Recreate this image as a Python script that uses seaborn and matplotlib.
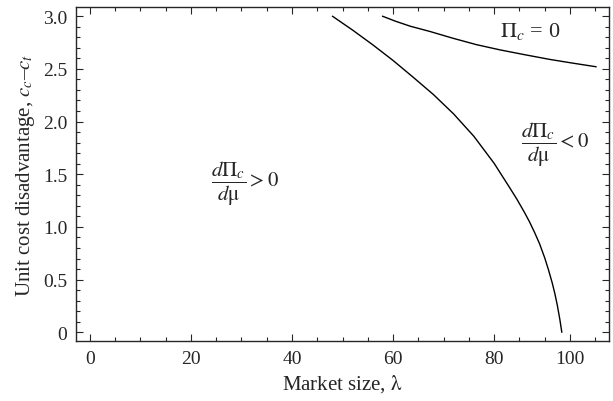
import seaborn as sns
import matplotlib.pyplot as plt
import pandas as pd
from matplotlib.ticker import FixedLocator, MultipleLocator

# boundary where dPi_c/dmu changes sign
lam_deriv = [48.0, 52.0, 56.0, 60.0, 64.0, 68.0, 72.0, 76.0, 80.0, 83.0, 84.5, 86.0, 87.0,
             88.0, 89.0, 90.0, 90.75, 91.5, 92.0, 92.5, 93.0, 93.4]
cost_deriv = [3.0, 2.868, 2.728, 2.580, 2.420, 2.256, 2.072, 1.860, 1.604, 1.379, 1.264, 1.139, 1.049,
              0.949, 0.840, 0.709, 0.595, 0.469, 0.372, 0.259, 0.125, 0.0]

# zero-profit boundary Pi_c = 0
lam_zero = [57.9, 60.5, 63.4, 67.3, 71.9, 76.5, 81.2, 86.0, 91.0, 95.5, 100.2]
cost_zero = [3.0, 2.952, 2.905, 2.855, 2.79, 2.73, 2.68, 2.635, 2.59, 2.555, 2.52]

x_ticks = [0, 20, 40, 60, 80, 95]
x_labels = ['0', '20', '40', '60', '80', '100']
y_ticks = [0, 0.5, 1.0, 1.5, 2.0, 2.5, 3.0]
y_labels = ['0', '0.5', '1.0', '1.5', '2.0', '2.5', '3.0']

sns.set_style('ticks')
plt.rcParams['font.family'] = ['Liberation Serif', 'DejaVu Serif']
plt.rcParams['mathtext.fontset'] = 'stix'

A = pd.DataFrame({'lam': lam_deriv, 'cost': cost_deriv})
B = pd.DataFrame({'lam': lam_zero, 'cost': cost_zero})

fig = plt.figure(figsize=(6.13, 4.02), dpi=100)
ax = fig.add_axes([0.1235, 0.1485, 0.8705, 0.8305])

sns.lineplot(data=A, x='lam', y='cost', sort=False, color='black', lw=1.0, ax=ax)
sns.lineplot(data=B, x='lam', y='cost', sort=False, color='black', lw=1.0, ax=ax)

ax.set_xlim(-2.8, 102.8)
ax.set_ylim(-0.085, 3.083)

ax.xaxis.set_major_locator(FixedLocator(x_ticks))
ax.set_xticklabels(x_labels)
ax.xaxis.set_minor_locator(MultipleLocator(5))
ax.yaxis.set_major_locator(FixedLocator(y_ticks))
ax.set_yticklabels(y_labels)
ax.yaxis.set_minor_locator(MultipleLocator(0.1))

ax.tick_params(which='both', direction='in', top=True, right=True, labelsize=14, width=0.8)
ax.tick_params(which='major', length=5, pad=6)
ax.tick_params(which='minor', length=3)
for s in ax.spines.values():
    s.set_linewidth(1.0)

ax.set_xlabel(r'Market size, $\mathrm{\lambda}$', fontsize=15)
ax.set_ylabel(r'Unit cost disadvantage, $c_c$–$c_t$', fontsize=15)

ax.text(87.1, 2.86, r'$\Pi_c$ = 0', fontsize=16, ha='center', va='center')
ax.text(92.0, 1.79, r'$\dfrac{d\Pi_c}{d\mathrm{\mu}} < 0$', fontsize=15, ha='center', va='center')
ax.text(30.7, 1.42, r'$\dfrac{d\Pi_c}{d\mathrm{\mu}} > 0$', fontsize=15, ha='center', va='center')

plt.savefig('out.png', dpi=100)
